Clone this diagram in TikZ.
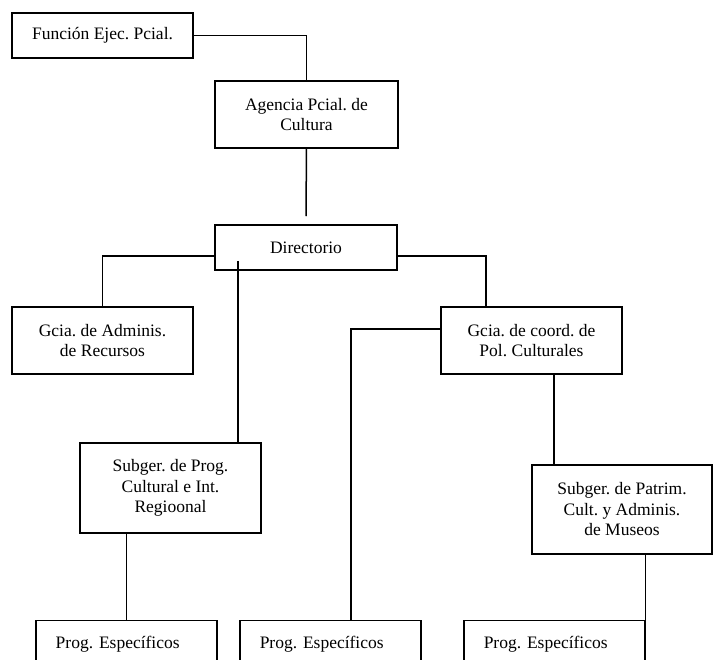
\documentclass[tikz,border=0pt]{standalone}
\usepackage{fontspec}
\setmainfont{Liberation Serif}
\frenchspacing
\begin{document}
\begin{tikzpicture}[x=1pt,y=-1pt,line width=1.5pt,
  caja/.style={draw,inner sep=0pt,align=center,font=\fontsize{17.5}{20.5}\selectfont},
  prog/.style={draw,inner sep=0pt,anchor=north west,minimum width=181,minimum height=46,
    text width=141,inner xsep=20,align=left,font=\fontsize{17.5}{20.5}\selectfont}]
\clip (0,0) rectangle (716,660);
\node[caja,minimum width=181,minimum height=45](funcion) at (102.5,35.5) {Función Ejec. Pcial.};
\node[caja,minimum width=183,minimum height=67](agencia) at (306.5,114.5) {Agencia Pcial. de\\Cultura};
\node[caja,minimum width=182,minimum height=45](dir) at (306,247.5) {Directorio};
\node[caja,minimum width=181,minimum height=67](adminis) at (102.5,340.5) {Gcia. de Adminis.\\de Recursos};
\node[caja,minimum width=181,minimum height=67](coord) at (531.5,340.5) {Gcia. de coord. de\\Pol. Culturales};
\node[caja,minimum width=181,minimum height=90](subprog) at (170.5,488) {Subger. de Prog.\\Cultural e Int.\\Regioonal};
\node[caja,minimum width=180,minimum height=89](patrim) at (622,509.5) {Subger. de Patrim.\\Cult. y Adminis.\\de Museos};
\node[prog](prog1) at (35,620) {Prog. Específicos};
\node[prog](prog2) at (239,620) {Prog. Específicos};
\node[prog](prog3) at (463,620) {Prog. Específicos};
%
\coordinate(dirin) at (238,261);
\coordinate(coordin) at (coord.west |- 0,329);
\coordinate(prog2in) at (351,620);
%
\draw(funcion.east) -| (agencia.north);
\draw[shorten >=8](agencia) -- (dir);
\draw([yshift=-8.5]dir.west) -| (adminis.north);
\draw([yshift=-8.5]dir.east) -| ([xshift=-45.5]coord.north);
\draw(dirin) -- (dirin |- subprog.north);
\draw(prog1.north) -- (prog1.north |- subprog.south);
\draw(coordin) -| (prog2in);
\draw([xshift=22.5]coord.south) -- ([xshift=22.5]coord.south |- patrim.north);
\draw(prog3.north east) -- (prog3.north east |- patrim.south);
\end{tikzpicture}
\end{document}
